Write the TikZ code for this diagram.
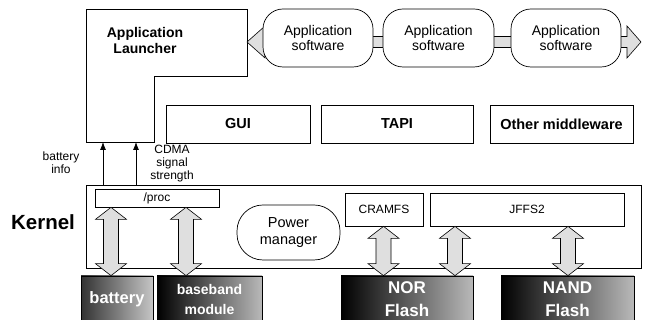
\documentclass[tikz,border=0pt]{standalone}
\usepackage{fontspec}
\setmainfont{Liberation Sans}
\usetikzlibrary{calc,arrows.meta}

% vertical two-headed block arrow at x = #1 (pt) between node #2 (above) and node #3 (below)
\newcommand\biarrow[3]{%
  \filldraw[bifill] let \p1=(#2.south), \p2=(#3.north) in
    (#1pt,\y1) -- (#1pt+15.5pt,\y1-12pt) -- (#1pt+7.5pt,\y1-12pt)
    -- (#1pt+7.5pt,\y2+12pt) -- (#1pt+15.5pt,\y2+12pt) -- (#1pt,\y2)
    -- (#1pt-15.5pt,\y2+12pt) -- (#1pt-7.5pt,\y2+12pt)
    -- (#1pt-7.5pt,\y1-12pt) -- (#1pt-15.5pt,\y1-12pt) -- cycle;}

\tikzset{
  box/.style={draw, fill=white, line width=0.7pt, inner sep=0pt, align=center},
  appbox/.style={box, rounded corners=20pt, minimum width=110pt, minimum height=58pt,
    font=\fontsize{14}{15.5}\selectfont},
  mwbox/.style={box, minimum height=38pt, font=\bfseries\fontsize{14.5}{16}\selectfont},
  fsbox/.style={box, minimum height=33pt, font=\fontsize{12}{14}\selectfont},
  hwbox/.style={draw=black, line width=0.7pt, left color=black, right color=gray!55,
    text=white, inner sep=0pt, align=center, minimum height=47pt},
  bifill/.style={draw=black, line width=0.6pt, fill=gray!25},
  lbl/.style={align=center, font=\fontsize{12}{13}\selectfont, inner sep=0pt},
  sig/.style={-{Latex[length=8pt,width=6pt]}, line width=0.8pt},
}

\begin{document}
\begin{tikzpicture}[x=1pt,y=1pt]
  \useasboundingbox (0,0) rectangle (648,320);

  % application launcher (L-shaped frame)
  \draw[line width=0.7pt] (86,311) -- (247,311) -- (247,244) -- (154,244)
    -- (154,178) -- (86,178) -- cycle;
  \node[font=\bfseries\fontsize{14}{16}\selectfont, align=center] (launcher)
    at (145,279) {Application\\Launcher};
  \coordinate (ltip) at (247,278);
  \coordinate (rtip) at (641,278);
  \coordinate (s1) at (103,178);
  \coordinate (s2) at (136,178);

  % band running through the application software chain
  \filldraw[bifill] let \p1=(ltip), \p2=(rtip) in
    (\x1,\y1) -- (\x1+18pt,\y1+16pt) -- (\x1+18pt,\y1+5.5pt) -- (\x2-14pt,\y1+5.5pt)
    -- (\x2-14pt,\y1+16pt) -- (\x2,\y1) -- (\x2-14pt,\y1-16pt) -- (\x2-14pt,\y1-5.5pt)
    -- (\x1+18pt,\y1-5.5pt) -- (\x1+18pt,\y1-16pt) -- cycle;

  \node[appbox] (app1) at (318,282) {Application\\software};
  \node[appbox, minimum width=111pt] (app2) at (438.5,282) {Application\\software};
  \node[appbox] (app3) at (566,282) {Application\\software};

  % middleware
  \node[mwbox, minimum width=144pt] (gui)  at (238,196)   {GUI};
  \node[mwbox, minimum width=152pt] (tapi) at (397,196)   {TAPI};
  \node[mwbox, minimum width=143pt] (mw)   at (561.5,196) {Other middleware};

  % kernel
  \node[box, minimum width=555pt, minimum height=83pt] (kernel) at (363.5,93.5) {};
  \node[font=\bfseries\fontsize{20.5}{22}\selectfont] (klabel) at (43,98) {Kernel};
  \node[box, minimum width=124pt, minimum height=18pt, font=\fontsize{12}{14}\selectfont]
    (proc) at (157,122) {/proc};
  \node[box, rounded corners=26pt, minimum width=103pt, minimum height=55pt,
    font=\fontsize{14.5}{17}\selectfont] (pm) at (288.5,87.5) {Power\\manager};
  \node[fsbox, minimum width=78pt]  (cramfs) at (384,110.5) {CRAMFS};
  \node[fsbox, minimum width=194pt] (jffs)   at (527,110.5) {JFFS2};

  % signals to the launcher
  \draw[sig] (kernel.north -| s1) -- (s1);
  \draw[sig] (kernel.north -| s2) -- (s2);
  \node[lbl] (binfo) at (61,157.5) {battery\\info};
  \node[lbl] (cdma) at (172,156) {CDMA\\signal\\strength};

  % hardware
  \node[hwbox, minimum width=72pt, left color=gray!40!black, right color=gray!45,
    font=\bfseries\fontsize{16.5}{18}\selectfont] (bat) at (117,20.5) {battery};
  \node[hwbox, minimum width=105pt, font=\bfseries\fontsize{14}{20}\selectfont]
    (bb) at (209.5,20.5) {baseband\\module};
  \node[hwbox, minimum width=132pt, font=\bfseries\fontsize{17}{23}\selectfont]
    (nor) at (407,20.5) {NOR\\Flash};
  \node[hwbox, minimum width=133pt, font=\bfseries\fontsize{17}{23}\selectfont]
    (nand) at (567.5,20.5) {NAND\\Flash};

  % data paths between kernel blocks and hardware
  \biarrow{111}{proc}{bat}
  \biarrow{186}{proc}{bb}
  \biarrow{383.5}{cramfs}{nor}
  \biarrow{455}{jffs}{nor}
  \biarrow{568}{jffs}{nand}
\end{tikzpicture}
\end{document}
